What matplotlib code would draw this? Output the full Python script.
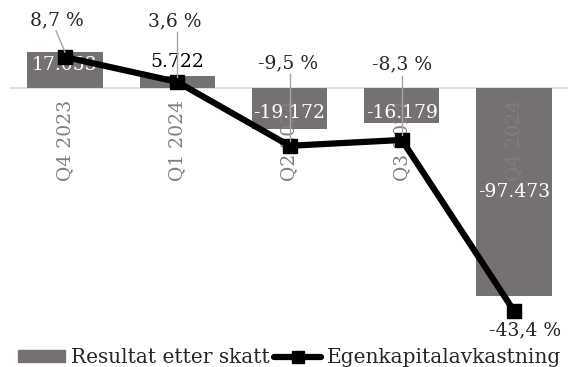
import numpy as np
import matplotlib.pyplot as plt
from matplotlib.patches import Patch
from matplotlib.lines import Line2D

plt.rcParams['font.family'] = ['DejaVu Serif']

quarters = ["Q4 2023", "Q1 2024", "Q2 2024", "Q3 2024", "Q4 2024"]
resultat = [17.053, 5.722, -19.172, -16.179, -97.473]
ek_avk = [8.7, 3.6, -9.5, -8.3, -43.4]
res_labels = ["17.053", "5.722", "-19.172", "-16.179", "-97.473"]
ek_labels = ["8,7 %", "3,6 %", "-9,5 %", "-8,3 %", "-43,4 %"]

BAR = "#767171"
W, H = 568, 367
fig = plt.figure(figsize=(W / 100, H / 100), dpi=100)
ax = fig.add_axes([10 / W, (H - 335) / H, 558 / W, 335 / H])
ax2 = ax.twinx()

x = np.arange(len(quarters))
ax.bar(x, resultat, width=0.67, color=BAR, zorder=2)
ax.axhline(0, color="#d9d9d9", lw=1.2, zorder=1)
ax.set_xlim(-0.49, 4.48)
ax.set_ylim(-115.7, 41.2)
ax2.set_ylim(-48.3, 20.4)

# category labels drawn inside the plot, below the zero line
for xi, q in zip(x, quarters):
    ax.text(xi, -5.6, q, rotation=90, ha="center", va="top", fontsize=13.5,
            color="#7f7f7f", zorder=3)

# bar value labels
res_y = [10.8, 12.2, -11.7, -11.7, -48.7]
res_col = ["white", "black", "white", "white", "white"]
for xi, yi, t, c in zip(x, res_y, res_labels, res_col):
    ax.text(xi, yi, t, ha="center", va="center", fontsize=13.5, color=c, zorder=4)

ax2.plot(x, ek_avk, color="black", lw=4.5, marker="s", ms=10, zorder=5,
         solid_capstyle="round")

# percentage labels with leader lines
lab_pos = [(-0.07, 16.3), (0.98, 16.1), (1.99, 7.5), (3.0, 7.1), (4.1, -47.3)]
for (lx, ly), t, xi, yi, lead in zip(lab_pos, ek_labels, x, ek_avk,
                                     [True, True, True, True, False]):
    ax2.text(lx, ly, t, ha="center", va="center", fontsize=13.5, color="#262626",
             zorder=6)
    if lead:
        ax2.plot([lx - 0.01 if xi == 0 else xi, xi], [ly - 2.2, yi + 1.0],
                 color="#a6a6a6", lw=1, zorder=6)

for a in (ax, ax2):
    a.set_xticks([])
    a.set_yticks([])
    for s in a.spines.values():
        s.set_visible(False)

handles = [Patch(color=BAR, label="Resultat etter skatt"),
           Line2D([], [], color="black", lw=4.5, marker="s", ms=8,
                  solid_capstyle="round", label="Egenkapitalavkastning")]
fig.legend(handles=handles, loc="lower center", bbox_to_anchor=(0.51, -0.05), ncol=2,
           frameon=False, fontsize=14.5, handlelength=2.35, handleheight=0.5,
           handletextpad=0.3, columnspacing=0.2, labelcolor="#262626")

fig.savefig("out.png", dpi=100)
